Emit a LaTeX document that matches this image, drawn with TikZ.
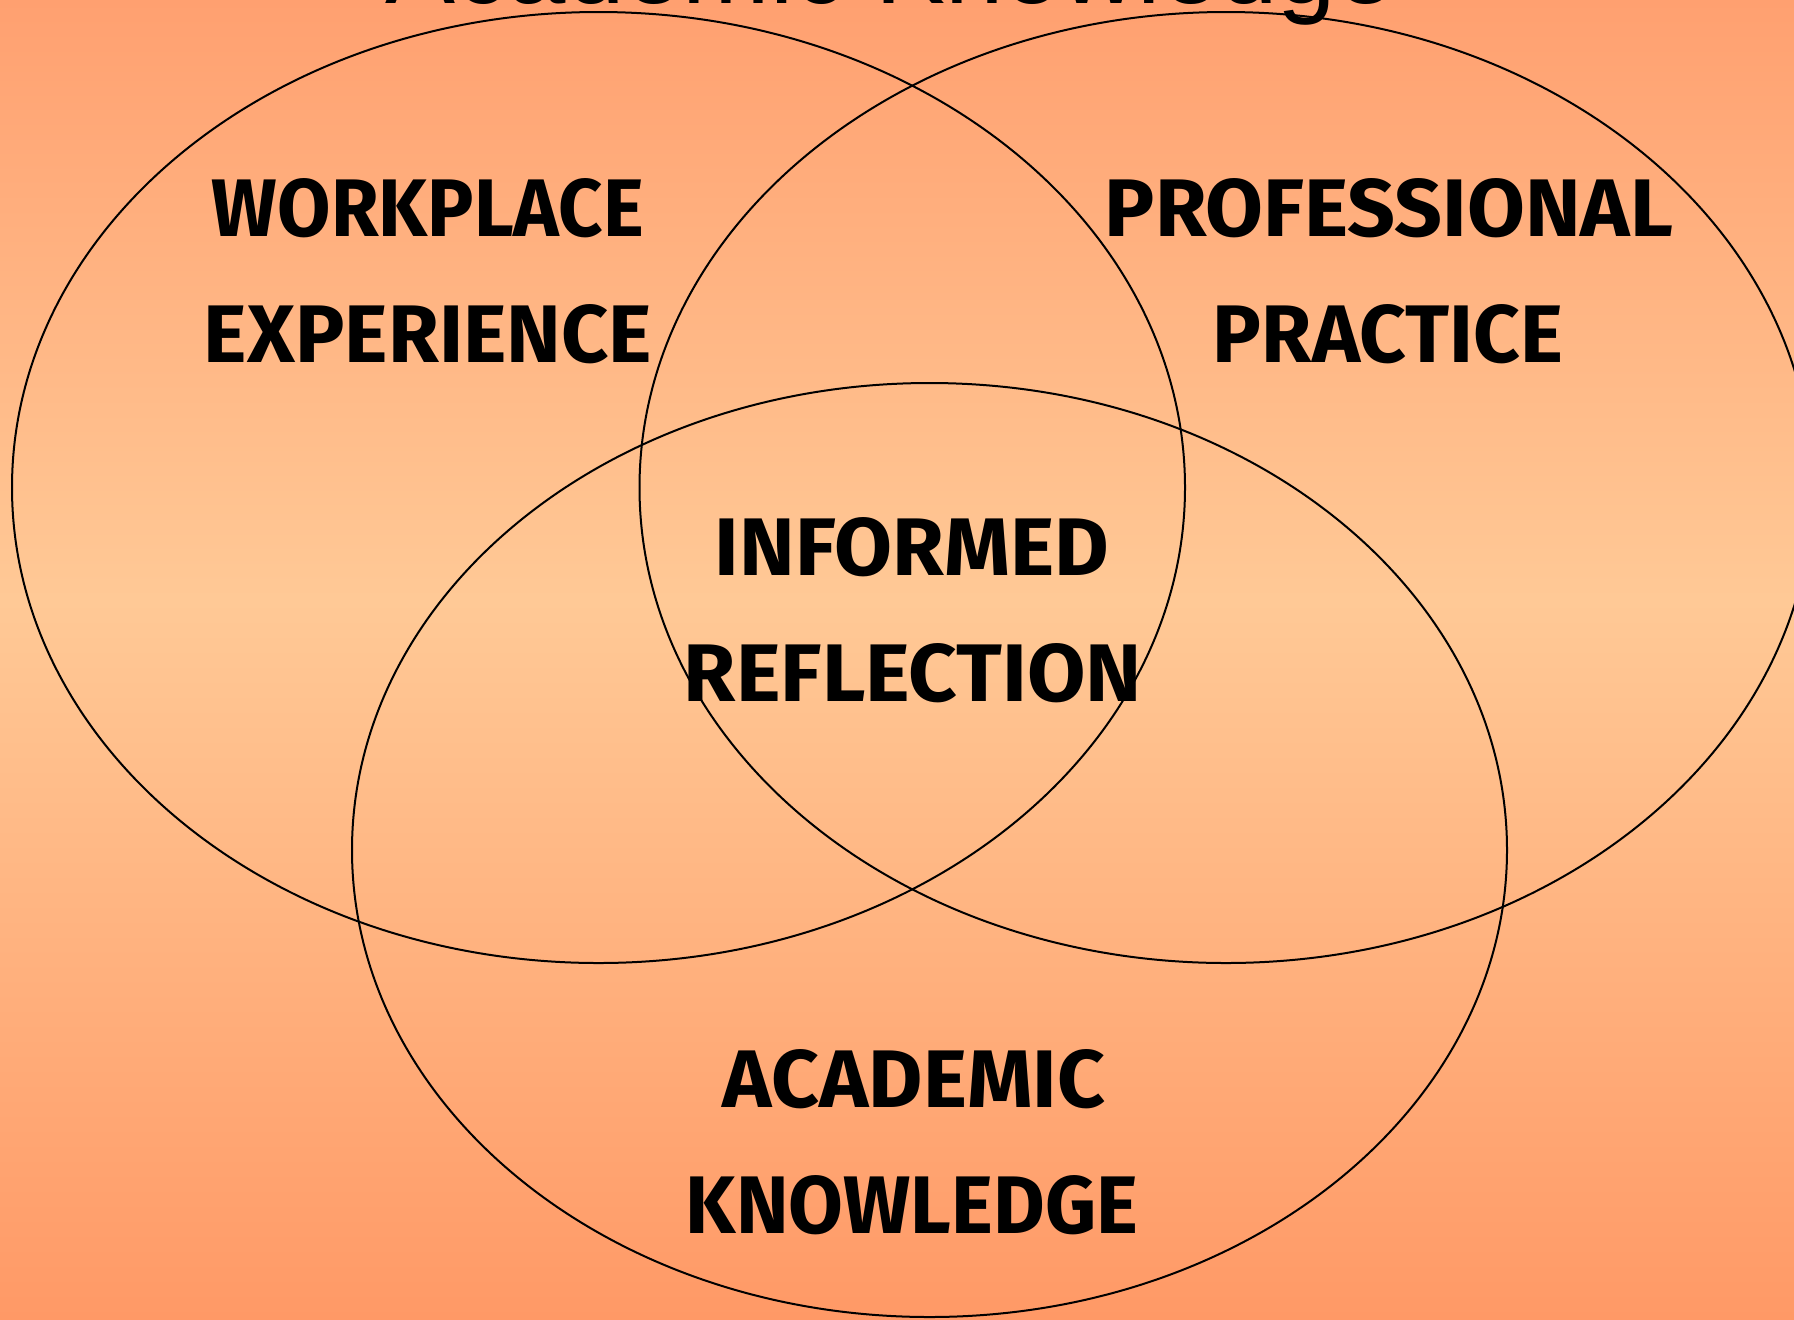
\documentclass[tikz,border=0pt]{standalone}
\usepackage{fontspec}
\setmainfont{Liberation Sans}
\newfontfamily\lblfont{Fira Sans}
\usetikzlibrary{shapes.geometric}
\definecolor{bgtop}{HTML}{FFA070}
\definecolor{bgmid}{HTML}{FFC996}
\definecolor{bgbot}{HTML}{FF9966}
\newcommand{\lbl}[2]{\resizebox{#1}{29pt}{\lblfont\bfseries #2}}
\tikzset{
  venn/.style={ellipse, draw=black, line width=1pt, inner sep=0pt, fill=none},
  lab/.style={inner sep=0pt, outer sep=0pt, text=black},
}
\begin{document}
\begin{tikzpicture}[x=0.5pt,y=-0.5pt]
\useasboundingbox (0,0) rectangle (1794,1319);
\begin{scope}
\clip (0,0) rectangle (1794,1319);
\shade[top color=bgtop, bottom color=bgmid] (0,0) rectangle (1794,600);
\shade[top color=bgmid, bottom color=bgbot] (0,600) rectangle (1794,1319);
\node[venn, minimum width=586.5pt, minimum height=475.5pt] (work) at (598.5,487.5) {};
\node[venn, minimum width=586.5pt, minimum height=475.5pt] (prof) at (1226,487.5) {};
\node[venn, minimum width=577.5pt, minimum height=467pt] (acad) at (929.5,850) {};
\node[anchor=base, inner sep=0pt] (title) at (890,3) {\fontsize{52.5}{60}\selectfont Academic Knowledge};
\end{scope}
\node[lab] (w1) at (428,208) {\lbl{216pt}{WORKPLACE}};
\node[lab] (w2) at (428,334) {\lbl{224pt}{EXPERIENCE}};
\node[lab] (p1) at (1389,208) {\lbl{284pt}{PROFESSIONAL}};
\node[lab] (p2) at (1388,334) {\lbl{175pt}{PRACTICE}};
\node[lab] (i1) at (912,547) {\lbl{197pt}{INFORMED}};
\node[lab] (i2) at (913,673) {\lbl{229pt}{REFLECTION}};
\node[lab] (a1) at (914,1079) {\lbl{191pt}{ACADEMIC}};
\node[lab] (a2) at (912,1205) {\lbl{226pt}{KNOWLEDGE}};
\end{tikzpicture}
\end{document}
